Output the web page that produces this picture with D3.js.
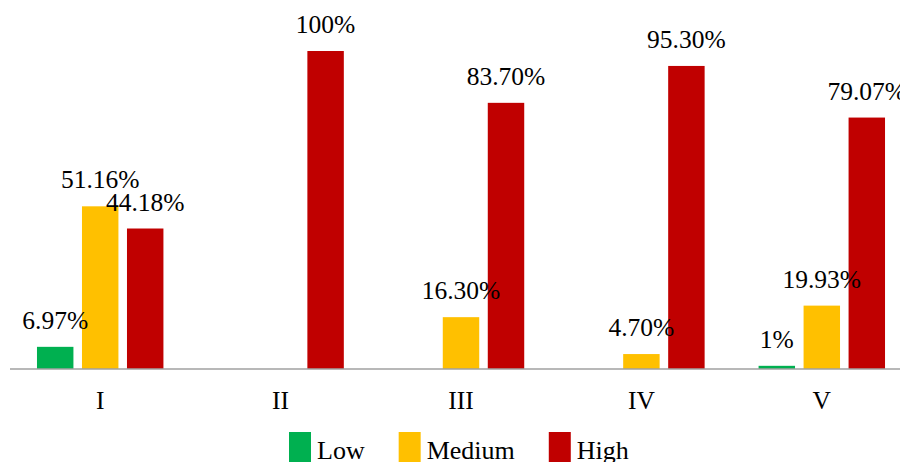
<!DOCTYPE html>
<html>
<head>
<meta charset="utf-8">
<script src="https://cdn.jsdelivr.net/npm/d3@7"></script>
<style>
  html, body { margin: 0; padding: 0; background: #fff; overflow: hidden; }
  svg { display: block; }
</style>
</head>
<body>
<svg id="chart" width="900" height="462"></svg>
<script>
// Groups along the x axis
const categories = ["I", "II", "III", "IV", "V"];
// Series names and colours
const seriesNames = ["Low", "Medium", "High"];
const seriesColors = ["#00B050", "#FFC000", "#C00000"];
// Percent values per series (null = no bar)
const lowValues    = [6.97, null, null, null, 1];
const mediumValues = [51.16, null, 16.30, 4.70, 19.93];
const highValues   = [44.18, 100, 83.70, 95.30, 79.07];
// Label text shown above each bar
const lowLabels    = ["6.97%", "", "", "", "1%"];
const mediumLabels = ["51.16%", "", "16.30%", "4.70%", "19.93%"];
const highLabels   = ["44.18%", "100%", "83.70%", "95.30%", "79.07%"];

const seriesValues = [lowValues, mediumValues, highValues];
const seriesLabels = [lowLabels, mediumLabels, highLabels];

const FONT = '"Liberation Serif", "Times New Roman", serif';
const svg = d3.select("#chart");

const x0 = d3.scaleBand().domain(categories).range([10, 912]).paddingInner(0).paddingOuter(0);
const groupMid = x0.bandwidth() / 2;
const x1 = d3.scaleBand().domain(seriesNames)
  .range([groupMid - 67.5, groupMid + 67.5])
  .paddingInner(0.19).paddingOuter(0.095);
const y = d3.scaleLinear().domain([0, 100]).range([369, 51]);

const rows = [];
seriesNames.forEach((s, si) => {
  categories.forEach((c, ci) => {
    const v = seriesValues[si][ci];
    if (v !== null && v !== undefined) {
      rows.push({ cat: c, series: s, value: v, label: seriesLabels[si][ci], color: seriesColors[si] });
    }
  });
});

// Bars
svg.append("g").selectAll("rect").data(rows).join("rect")
  .attr("x", d => x0(d.cat) + x1(d.series))
  .attr("y", d => y(d.value))
  .attr("width", x1.bandwidth())
  .attr("height", d => y(0) - y(d.value))
  .attr("fill", d => d.color);

// Value labels
svg.append("g").selectAll("text").data(rows.filter(d => d.label)).join("text")
  .attr("x", d => x0(d.cat) + x1(d.series) + x1.bandwidth() / 2)
  .attr("y", d => y(d.value) - 18)
  .attr("text-anchor", "middle")
  .style("font-family", FONT)
  .style("font-size", "25.5px")
  .attr("fill", "#000")
  .text(d => d.label);

// X axis
const xAxis = d3.axisBottom(x0).tickSize(0).tickPadding(0);
const gx = svg.append("g").attr("transform", `translate(0,${y(0)})`).call(xAxis);
gx.select(".domain").attr("stroke", "#a0a0a0").attr("stroke-width", 1.5).attr("d", "M10,0H900");
gx.selectAll(".tick text")
  .style("font-family", FONT)
  .style("font-size", "25.5px")
  .attr("fill", "#000")
  .attr("dy", null)
  .attr("y", 40);

// Legend
const legend = svg.append("g").attr("transform", "translate(289,432)");
let lx = 0;
seriesNames.forEach((s, i) => {
  const g = legend.append("g").attr("transform", `translate(${lx},0)`);
  g.append("rect").attr("width", 22).attr("height", 34).attr("fill", seriesColors[i]);
  const t = g.append("text").attr("x", 28).attr("y", 27)
    .style("font-family", FONT).style("font-size", "26px").attr("fill", "#000").text(s);
  lx += 28 + t.node().getComputedTextLength() + 34;
});
</script>
</body>
</html>
